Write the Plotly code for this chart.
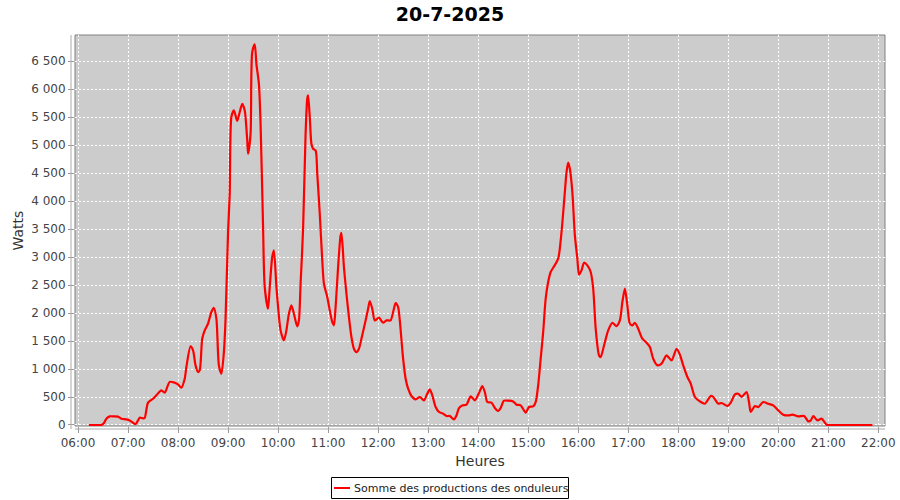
import plotly.graph_objects as go

DAY = "2025-07-20"
TITLE = "20-7-2025"
SERIES_NAME = "Somme des productions des onduleurs"

times = [
    "06:13", "06:18", "06:23", "06:28", "06:31", "06:34", "06:38", "06:43", "06:48", "06:52",
    "06:58", "07:02", "07:06", "07:09", "07:12", "07:14", "07:18", "07:20", "07:24", "07:30",
    "07:34", "07:40", "07:44", "07:50", "07:56", "08:00", "08:04", "08:08", "08:10", "08:15",
    "08:18", "08:21", "08:24", "08:26", "08:29", "08:32", "08:36", "08:40", "08:43", "08:46",
    "08:49", "08:52", "08:55", "08:57", "09:00", "09:02", "09:04", "09:07", "09:11", "09:14",
    "09:17", "09:20", "09:23", "09:24", "09:27", "09:29", "09:32", "09:34", "09:37", "09:39",
    "09:42", "09:44", "09:48", "09:50", "09:53", "09:55", "09:58", "10:00", "10:03", "10:07",
    "10:10", "10:13", "10:16", "10:19", "10:23", "10:25", "10:27", "10:30", "10:33", "10:35",
    "10:36", "10:38", "10:40", "10:42", "10:45", "10:47", "10:50", "10:53", "10:55", "10:59",
    "11:02", "11:05", "11:07", "11:09", "11:12", "11:15", "11:16", "11:19", "11:22", "11:25",
    "11:28", "11:31", "11:34", "11:37", "11:40", "11:45", "11:48", "11:50", "11:53", "11:56",
    "12:01", "12:06", "12:10", "12:15", "12:18", "12:21", "12:24", "12:26", "12:30", "12:33",
    "12:36", "12:40", "12:45", "12:50", "12:55", "12:59", "13:02", "13:05", "13:09", "13:13",
    "13:18", "13:22", "13:26", "13:31", "13:34", "13:37", "13:41", "13:46", "13:51", "13:56",
    "14:01", "14:05", "14:08", "14:11", "14:16", "14:20", "14:24", "14:27", "14:31", "14:36",
    "14:42", "14:46", "14:51", "14:57", "15:01", "15:06", "15:09", "15:12", "15:15", "15:18",
    "15:21", "15:24", "15:27", "15:31", "15:36", "15:40", "15:44", "15:46", "15:48", "15:50",
    "15:53", "15:56", "15:59", "16:01", "16:04", "16:07", "16:11", "16:15", "16:18", "16:21",
    "16:25", "16:27", "16:31", "16:36", "16:41", "16:46", "16:50", "16:53", "16:56", "16:59",
    "17:02", "17:05", "17:08", "17:12", "17:17", "17:22", "17:26", "17:30", "17:35", "17:40",
    "17:46", "17:52", "17:58", "18:02", "18:06", "18:11", "18:15", "18:20", "18:26", "18:32",
    "18:39", "18:42", "18:48", "18:52", "18:59", "19:03", "19:08", "19:12", "19:16", "19:22",
    "19:25", "19:27", "19:32", "19:36", "19:42", "19:48", "19:54", "20:00", "20:06", "20:12",
    "20:17", "20:24", "20:31", "20:36", "20:39", "20:42", "20:47", "20:52", "20:56", "20:58",
    "21:03", "21:08", "21:13", "21:18", "21:23", "21:28", "21:33", "21:38", "21:43", "21:48",
    "21:53",
]

watts = [
    0, 0, 0, 0, 30, 113, 154, 154, 150, 113,
    100, 82, 41, 15, 80, 130, 119, 125, 400, 470,
    530, 620, 577, 770, 755, 725, 666, 826, 1035, 1403,
    1333, 1065, 946, 975, 1540, 1690, 1810, 2017, 2090, 1900,
    1065, 915, 1300, 1900, 3446, 4130, 5500, 5620, 5430, 5590,
    5737, 5617, 5082, 4845, 5200, 6660, 6797, 6450, 6095, 5380,
    3535, 2464, 2077, 2464, 3000, 3118, 2464, 2107, 1690, 1510,
    1690, 1987, 2136, 1987, 1760, 1868, 2523, 3505, 5200, 5827,
    5886, 5500, 5023, 4934, 4904, 4487, 3773, 2940, 2523, 2286,
    2047, 1840, 1780, 2107, 2821, 3386, 3430, 2821, 2345, 1928,
    1571, 1362, 1303, 1362, 1541, 1868, 2077, 2214, 2077, 1868,
    1916, 1826, 1868, 1868, 2017, 2178, 2107, 1868, 1184, 827,
    648, 518, 457, 500, 440, 560, 636, 530, 321, 232,
    202, 160, 160, 100, 171, 303, 350, 363, 511, 440,
    571, 696, 589, 410, 398, 303, 250, 303, 434, 434,
    421, 363, 350, 220, 321, 333, 410, 708, 1184, 1660,
    2255, 2553, 2732, 2832, 2970, 3446, 4160, 4518, 4684, 4577,
    4160, 3386, 2970, 2684, 2761, 2898, 2850, 2732, 2434, 1720,
    1243, 1214, 1421, 1690, 1826, 1767, 1868, 2196, 2434, 2136,
    1808, 1780, 1826, 1720, 1541, 1470, 1393, 1184, 1065, 1095,
    1243, 1154, 1362, 1255, 1065, 857, 738, 500, 421, 380,
    518, 500, 380, 393, 339, 398, 546, 559, 500, 589,
    398, 232, 339, 321, 410, 380, 350, 260, 184, 171,
    184, 154, 160, 64, 82, 160, 82, 113, 41, 5,
    0, 0, 0, 0, 0, 0, 0, 0, 0, 0,
    0,
]

x_dates = [f"{DAY} {t}" for t in times]

fig = go.Figure()
fig.add_trace(go.Scatter(
    x=x_dates, y=watts, mode="lines", name=SERIES_NAME,
    line=dict(color="#ff0000", width=2.2, shape="spline", smoothing=0.7),
    showlegend=False,
))

fig.update_layout(
    width=900, height=500,
    margin=dict(l=75, r=15, t=35, b=74),
    paper_bgcolor="white", plot_bgcolor="#cccccc",
    separators=", ",
    font=dict(family="DejaVu Sans", size=12, color="#444444"),
    title=dict(text=f"<b>{TITLE}</b>", x=0.5, xref="container", xanchor="center",
               y=1 - 14 / 500, yref="container", yanchor="middle",
               font=dict(family="DejaVu Sans", size=19, color="#000000")),
    xaxis=dict(
        type="date", automargin=False,
        range=[f"{DAY} 05:56:24", f"{DAY} 22:08:02"],
        dtick=3600000, tick0=f"{DAY} 06:00", tickformat="%H:%M",
        showgrid=True, gridcolor="#ffffff", griddash="2px,2px", gridwidth=1,
        zeroline=False, showline=False,
        ticks="outside", ticklen=6, tickcolor="#999999",
        tickfont=dict(size=12, color="#444444"),
        title=dict(text="Heures", font=dict(size=14, color="#333333"), standoff=6),
    ),
    yaxis=dict(
        automargin=False,
        range=[-18, 6965],
        dtick=500, tick0=0, tickformat=",d",
        showgrid=True, gridcolor="#ffffff", griddash="2px,2px", gridwidth=1,
        zeroline=False, showline=False,
        ticks="outside", ticklen=6, tickcolor="#999999",
        tickfont=dict(size=12, color="#444444"),
        title=dict(text="Watts", font=dict(size=14, color="#333333"), standoff=4),
    ),
)

# plot border (between grid and traces) and offset axis lines
fig.add_shape(type="rect", xref="paper", yref="paper", x0=0, x1=1, y0=0, y1=1,
              line=dict(color="#808080", width=1), layer="between")
fig.add_shape(type="line", xref="paper", yref="paper", x0=-4 / 810, x1=-4 / 810, y0=-3 / 391, y1=1,
              line=dict(color="#aaaaaa", width=1))
fig.add_shape(type="line", xref="paper", yref="paper", x0=0, x1=1, y0=-3 / 391, y1=-3 / 391,
              line=dict(color="#aaaaaa", width=1))

# legend box (drawn with shapes + text annotation)
def px_x(p):
    return (p - 75) / 810


def px_y(p):
    return (426 - p) / 391


fig.add_shape(type="rect", xref="paper", yref="paper",
              x0=px_x(331.5), x1=px_x(568.5), y0=px_y(477.5), y1=px_y(498.5),
              line=dict(color="#000000", width=1), fillcolor="#ffffff", layer="above")
fig.add_shape(type="line", xref="paper", yref="paper",
              x0=px_x(334), x1=px_x(350), y0=px_y(488), y1=px_y(488),
              line=dict(color="#ff0000", width=2), layer="above")
fig.add_annotation(
    xref="paper", yref="paper", x=px_x(352), y=px_y(488),
    xanchor="left", yanchor="middle", showarrow=False,
    text=SERIES_NAME, font=dict(size=11, color="#222222"),
)

fig.write_html(
    "out.html",
    config={"displayModeBar": False},
    post_script="document.body.style.margin='0';document.body.style.padding='0';"
                "document.body.style.overflow='hidden';",
)
